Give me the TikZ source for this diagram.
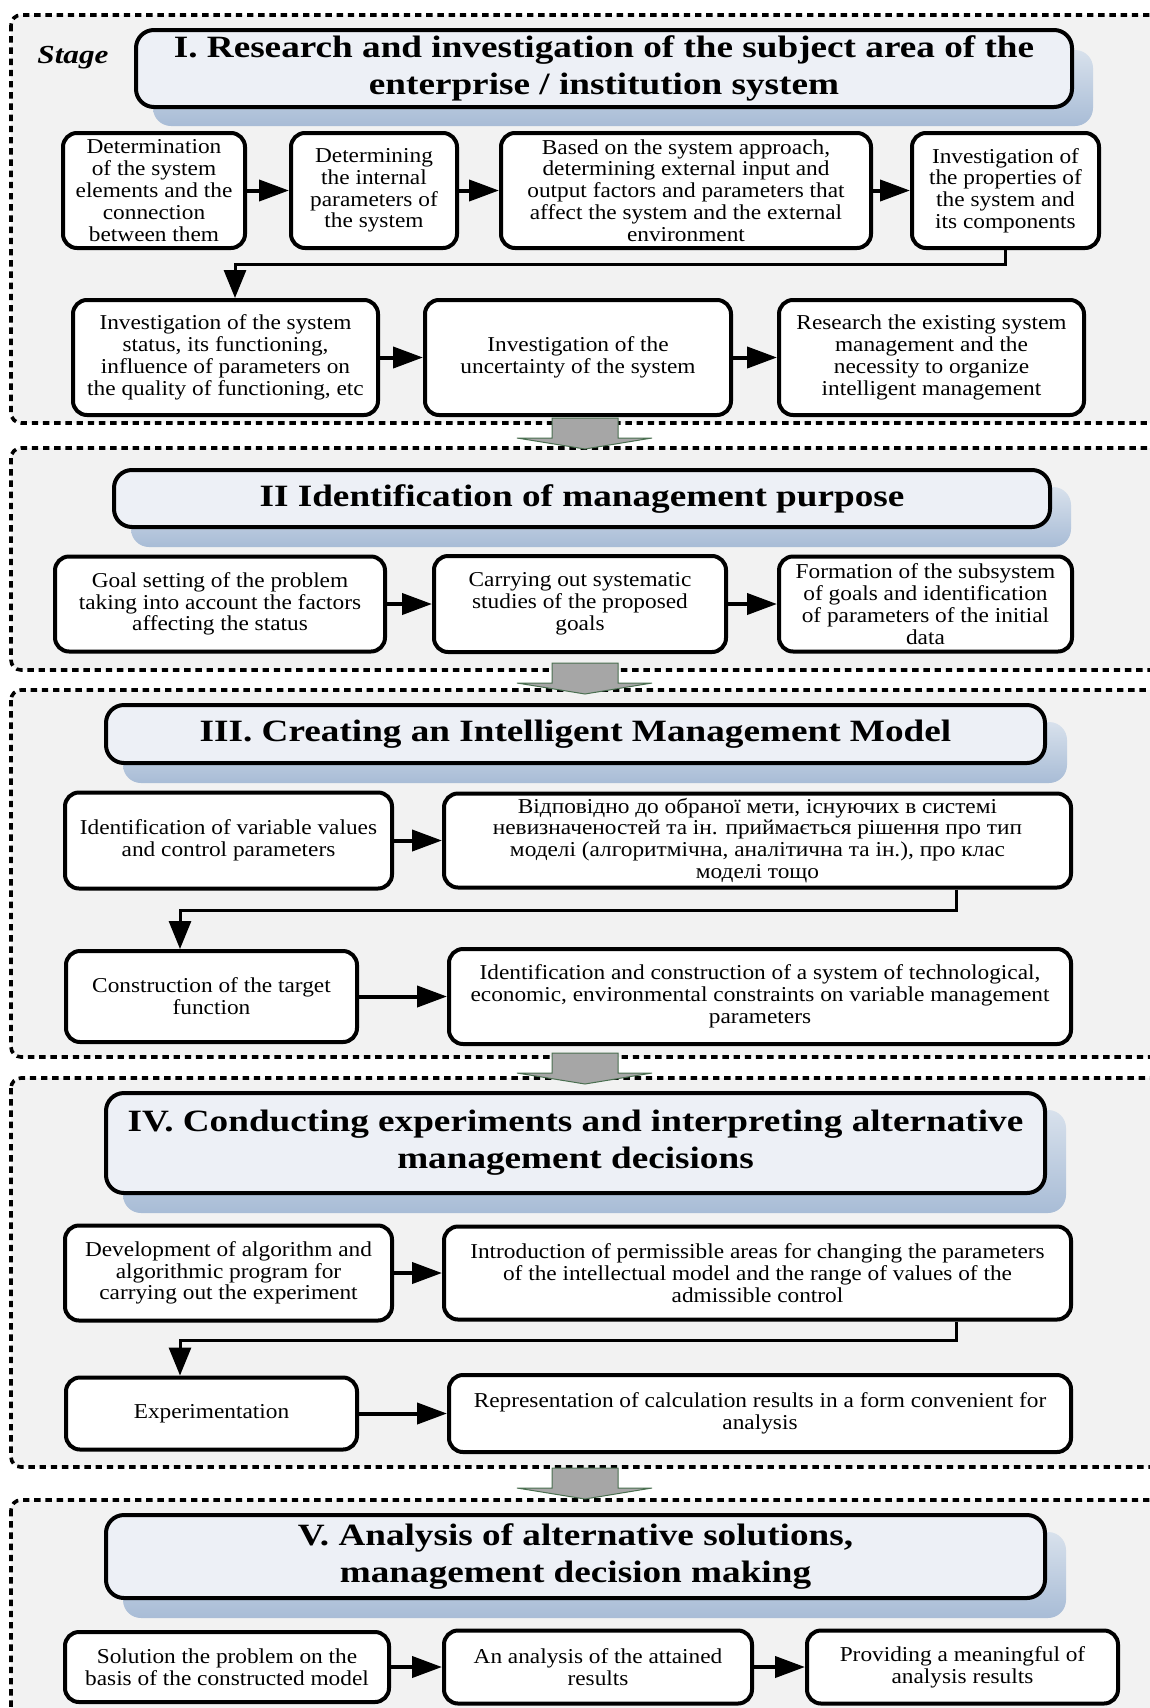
\documentclass[tikz,border=0pt]{standalone}
\usepackage{fontspec}
\setmainfont{Liberation Serif}[FakeStretch=1.1]
\newfontfamily\headfont{Liberation Serif}[FakeStretch=1.2]
\usetikzlibrary{arrows.meta}

\definecolor{stagebg}{HTML}{F2F2F2}
\definecolor{headbg}{HTML}{EDF0F6}
\definecolor{shadetop}{HTML}{D8E1EC}
\definecolor{shadebot}{HTML}{A8BCD6}
\definecolor{bigfill}{HTML}{A6A6A6}
\definecolor{bigline}{HTML}{4A6F50}

\begin{document}
\begin{tikzpicture}[x=0.5pt,y=-0.5pt,
  stage/.style={fill=stagebg, draw=black, line width=1.8pt, dash pattern=on 3.2pt off 2.4pt, rounded corners=5pt},
  headshadow/.style={rounded corners=9pt, top color=shadetop, bottom color=shadebot},
  head/.style={draw=black, line width=2pt, fill=headbg, rounded corners=9pt, align=center, inner sep=0pt,
    font=\headfont\bfseries\fontsize{15.5}{18.5}\selectfont},
  box/.style={draw=black, line width=2pt, fill=white, rounded corners=7pt, align=center, inner sep=0pt,
    font=\fontsize{10.6}{10.9}\selectfont},
  link/.style={line width=2pt, -{Triangle[length=15pt,width=10.5pt]}},
  turn/.style={line width=1.5pt, -{Triangle[length=14pt,width=11pt]}},
  bigarrow/.style={fill=bigfill, draw=bigline, line width=0.5pt}]
  \useasboundingbox (0,0) rectangle (1150,1708);
  \clip (0,0) rectangle (1150,1708);
  \foreach \ya/\yb in {15/423,448/670,690/1057,1078/1467,1500/1740}
    \draw[stage] (11,\ya) rectangle (1175,\yb);
  \foreach \xa/\ya/\xb/\yb in {153/50/1093/126,131/487/1071/547,123/722/1067/783,123/1110/1066/1213,123/1532/1066/1618}
    \shade[headshadow] (\xa,\ya) rectangle (\xb,\yb);

  \node[font=\headfont\bfseries\itshape\fontsize{13}{15}\selectfont] (stage) at (73,58) {Stage};
  \node[head, minimum width=468pt, minimum height=38.5pt] (s1) at (604,68.5)
    {I. Research and investigation of the subject area of the\\ enterprise / institution system};
  \node[box, minimum width=91pt, minimum height=57.5pt] (a1) at (154,190.5)
    {Determination\\ of the system\\ elements and the\\ connection\\ between them};
  \node[box, minimum width=83pt, minimum height=57.5pt] (a2) at (374,190.5)
    {Determining\\ the internal\\ parameters of\\ the system};
  \node[box, minimum width=185pt, minimum height=57.5pt] (a3) at (686,190.5)
    {Based on the system approach,\\ determining external input and\\ output factors and parameters that\\ affect the system and the external\\ environment};
  \node[box, minimum width=93.5pt, minimum height=57.5pt] (a4) at (1005.5,190.5)
    {Investigation of\\ the properties of\\ the system and\\ its components};
  \node[box, minimum width=152.5pt, minimum height=57.5pt] (b1) at (225.5,357.5)
    {Investigation of the system\\ status, its functioning,\\ influence of parameters on\\ the quality of functioning, etc};
  \node[box, minimum width=153pt, minimum height=57.5pt] (b2) at (578,357.5)
    {Investigation of the\\ uncertainty of the system};
  \node[box, minimum width=152.5pt, minimum height=57.5pt] (b3) at (931.5,357.5)
    {Research the existing system\\ management and the\\ necessity to organize\\ intelligent management};

  \node[head, minimum width=468pt, minimum height=28.5pt] (s2) at (582,498.5)
    {II Identification of management purpose};
  \node[box, minimum width=165pt, minimum height=47.5pt] (c1) at (220,604)
    {Goal setting of the problem\\ taking into account the factors\\ affecting the status};
  \node[box, minimum width=146pt, minimum height=48pt] (c2) at (580,604)
    {Carrying out systematic\\ studies of the proposed\\ goals};
  \node[box, minimum width=146.5pt, minimum height=47.5pt] (c3) at (925.5,604)
    {Formation of the subsystem\\ of goals and identification\\ of parameters of the initial\\ data};

  \node[head, minimum width=469.5pt, minimum height=29pt] (s3) at (575.5,734)
    {III. Creating an Intelligent Management Model};
  \node[box, minimum width=163.5pt, minimum height=48pt] (d1) at (228.5,840.5)
    {Identification of variable values\\ and control parameters};
  \node[box, minimum width=313.5pt, minimum height=47pt] (d2) at (757.5,840.5)
    {Відповідно до обраної мети, існуючих в системі\\ невизначеностей та ін. приймається рішення про тип\\ моделі (алгоритмічна, аналітична та ін.), про клас\\ моделі тощо};
  \node[box, minimum width=145.5pt, minimum height=45.5pt] (d3) at (211.5,996.5)
    {Construction of the target\\ function};
  \node[box, minimum width=311pt, minimum height=47.5pt] (d4) at (760,996.5)
    {Identification and construction of a system of technological,\\ economic, environmental constraints on variable management\\ parameters};

  \node[head, minimum width=469.5pt, minimum height=50pt] (s4) at (575.5,1143)
    {IV. Conducting experiments and interpreting alternative\\ management decisions};
  \node[box, minimum width=163.5pt, minimum height=47.5pt] (e1) at (228.5,1273)
    {Development of algorithm and\\ algorithmic program for\\ carrying out the experiment};
  \node[box, minimum width=313.5pt, minimum height=46.5pt] (e2) at (757.5,1273)
    {Introduction of permissible areas for changing the parameters\\ of the intellectual model and the range of values of the\\ admissible control};
  \node[box, minimum width=145.5pt, minimum height=36pt] (e3) at (211.5,1413.5)
    {Experimentation};
  \node[box, minimum width=311pt, minimum height=38.5pt] (e4) at (760,1413.5)
    {Representation of calculation results in a form convenient for\\ analysis};

  \node[head, minimum width=469.5pt, minimum height=41.5pt] (s5) at (575.5,1556.5)
    {V. Analysis of alternative solutions,\\ management decision making};
  \node[box, minimum width=162pt, minimum height=35pt] (f1) at (227,1667)
    {Solution the problem on the\\ basis of the constructed model};
  \node[box, minimum width=154pt, minimum height=36.5pt] (f2) at (598,1667)
    {An analysis of the attained\\ results};
  \node[box, minimum width=155.5pt, minimum height=36.5pt] (f3) at (962.5,1667)
    {Providing a meaningful of\\ analysis results};

  \path[link]
  (a1) edge (a2) (a2) edge (a3) (a3) edge (a4)
  (b1) edge (b2) (b2) edge (b3)
  (c1) edge (c2) (c2) edge (c3)
  (d1) edge (d2) (d3) edge (d4)
  (e1) edge (e2) (e3) edge (e4)
  (f1) edge (f2) (f2) edge (f3)
  ;
  \coordinate (k1) at (235,264);
  \coordinate (k2) at (956,910);
  \coordinate (k3) at (180,910);
  \coordinate (k4) at (956,1340);
  \coordinate (k5) at (180,1340);
  \draw[turn] (a4.south) |- (k1) -- (k1 |- b1.north);
  \draw[turn] (k2 |- d2.south) -- (k2) -- (k3) -- (k3 |- d3.north);
  \draw[turn] (k4 |- e2.south) -- (k4) -- (k5) -- (k5 |- e3.north);

  \foreach \y in {418,663,1053,1468}
    \draw[bigarrow] (552,\y) -- ++(66,0) -- ++(0,20) -- ++(34,0) -- ++(-67,11) -- ++(-68,-11) -- ++(35,0) -- cycle;
\end{tikzpicture}
\end{document}
